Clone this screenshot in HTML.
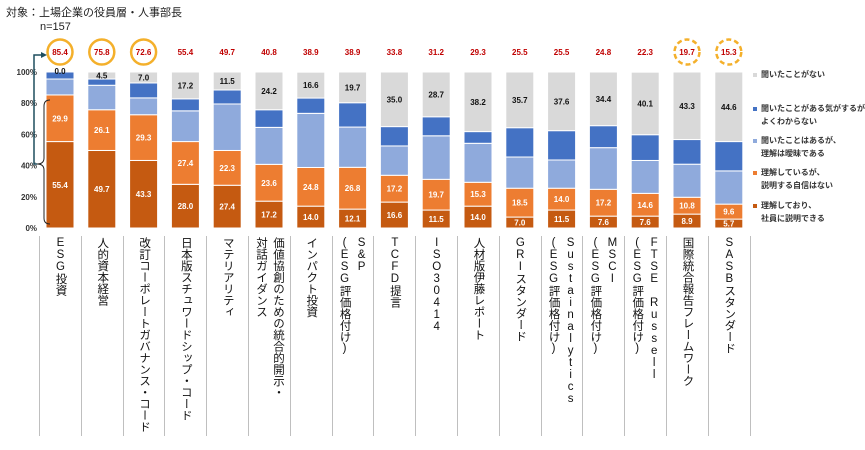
<!DOCTYPE html>
<html><head><meta charset="utf-8">
<style>
body{margin:0;background:#fff;}
#wrap{position:relative;width:865px;height:450px;overflow:hidden;font-family:"Liberation Sans","Noto Sans CJK JP",sans-serif;}
.lbl{position:absolute;top:237px;writing-mode:vertical-rl;text-orientation:upright;font-size:11.5px;line-height:17px;color:#111;white-space:pre;letter-spacing:0px;}
.sep{position:absolute;top:236px;width:1px;height:200px;background:#bfbfbf;}
</style></head><body>
<div id="wrap">
<svg id="svg" width="865" height="450" style="position:absolute;left:0;top:0">
<text x="6" y="16" font-size="11" fill="#222">対象：上場企業の役員層・人事部長</text>
<text x="40" y="30" font-size="11" fill="#222">n=157</text>
<g id="axis"></g><g id="bars"></g><g id="legend"></g>
<path d="M50,100 Q44,100 44,106 L44,158 Q44,164 37,164 Q44,164 44,170 L44,218 Q44,224 50,224" fill="none" stroke="#222" stroke-width="1"/>
<path d="M37,164 L34,164 L34,55 L43,55" fill="none" stroke="#1f4e5f" stroke-width="1.5"/>
<path d="M47,55 L41,52 L41,58 Z" fill="#1f4e5f"/>
</svg>
<div id="labels"></div>
</div>
<script>
const categories=["ESG投資","人的資本経営","改訂コーポレートガバナンス・コード","日本版スチュワードシップ・コード","マテリアリティ","価値協創のための統合的開示・\n対話ガイダンス","インパクト投資","S&P\n(ESG評価格付け)","TCFD提言","ISO30414","人材版伊藤レポート","GRIスタンダード","Sustainalytics\n(ESG評価格付け)","MSCI\n(ESG評価格付け)","FTSE Russell\n(ESG評価格付け)","国際統合報告フレームワーク","SASBスタンダード"];
const explain=[55.4,49.7,43.3,28.0,27.4,17.2,14.0,12.1,16.6,11.5,14.0,7.0,11.5,7.6,7.6,8.9,5.7];
const understand=[29.9,26.1,29.3,27.4,22.3,23.6,24.8,26.8,17.2,19.7,15.3,18.5,14.0,17.2,14.6,10.8,9.6];
const vague=[10.2,15.7,10.8,19.7,29.8,23.7,34.7,25.8,18.8,27.9,25.0,20.0,18.1,26.7,21.1,21.2,21.3];
const unsure=[4.5,4.0,9.6,7.7,9.0,11.3,9.8,15.6,12.4,12.2,7.5,18.8,18.8,14.1,16.5,15.8,18.8];
const never=[0.0,4.5,7.0,17.2,11.5,24.2,16.6,19.7,35.0,28.7,38.2,35.7,37.6,34.4,40.1,43.3,44.6];
const totals=[85.4,75.8,72.6,55.4,49.7,40.8,38.9,38.9,33.8,31.2,29.3,25.5,25.5,24.8,22.3,19.7,15.3];
const circled=[0,1,2]; const dashed=[15,16];
const yTicks=[0,20,40,60,80,100];
const legendItems=["聞いたことがない","聞いたことがある気がするが、\nよくわからない","聞いたことはあるが、\n理解は曖昧である","理解しているが、\n説明する自信はない","理解しており、\n社員に説明できる"];

const NS="http://www.w3.org/2000/svg";
const y0=228,y100=72;
const y=v=>y0-(y0-y100)*v/100;
const xc=i=>60+i*41.8;
const bw=28;
function mk(tag,attrs,parent){const e=document.createElementNS(NS,tag);for(const k in attrs)e.setAttribute(k,attrs[k]);parent.appendChild(e);return e;}
const axis=document.getElementById('axis'),bars=document.getElementById('bars'),leg=document.getElementById('legend');
yTicks.forEach(t=>{const e=mk('text',{x:37,y:y(t)+3,'font-size':8,'font-weight':'bold','text-anchor':'end',fill:'#333'},axis);e.textContent=t+'%';

});
const series=[explain,understand,vague,unsure,never];
const colors=["#c55a11","#ed7d31","#8faadc","#4472c4","#d9d9d9"];
const names=["explain","understand","vague","unsure","never"];
categories.forEach((c,i)=>{
 let cum=0;
 series.forEach((s,k)=>{
  const v=s[i];const top=y(cum+v),bot=y(cum);
  const r=mk('rect',{x:xc(i)-bw/2,y:top,width:bw,height:Math.max(0,bot-top),fill:colors[k],stroke:'#fff','stroke-width':1},bars);
  
  
  if(k!==2&&k!==3){
   let ly=(top+bot)/2+3; if(k===4&&v<3) ly=top+2;
   const t=mk('text',{x:xc(i),y:ly,'font-size':8,'font-weight':'bold','text-anchor':'middle',fill:k===4?'#111':'#fff'},bars);
   t.textContent=v.toFixed(1);
   
   
  }
  cum+=v;
 });
 if(circled.includes(i)||dashed.includes(i)){
  const ci=mk('circle',{cx:xc(i),cy:52,r:12.5,fill:'none',stroke:'#f4b02b','stroke-width':2.5},bars);
  if(dashed.includes(i)) ci.setAttribute('stroke-dasharray','5 3');
  
  
 }
 const tt=mk('text',{x:xc(i),y:55,'font-size':8,'font-weight':'bold','text-anchor':'middle',fill:'#c00000'},bars);
 tt.textContent=totals[i].toFixed(1);
 
 
 // category label
 const L=document.getElementById('labels');
 const d=document.createElement('div');d.className='lbl';d.textContent=c;
 
 
 L.appendChild(d);
 const lines=c.split('\n').length;
 d.style.left=(xc(i)-lines*17/2)+'px';
 const sp=document.createElement('div');sp.className='sep';sp.style.left=(xc(i)-21)+'px';
 
 
 L.appendChild(sp);
});
const sp2=document.createElement('div');sp2.className='sep';sp2.style.left=(xc(16)+21)+'px';


document.getElementById('labels').appendChild(sp2);
const legY=[77,111,143,175,208];
const legCol=["#d9d9d9","#4472c4","#8faadc","#ed7d31","#c55a11"];
legendItems.forEach((t,k)=>{
 const r=mk('rect',{x:753,y:legY[k]-4,width:4,height:4,fill:legCol[k]},leg);
 
 
 t.split('\n').forEach((ln,j)=>{
  const e=mk('text',{x:761,y:legY[k]+j*13,'font-size':8,'font-weight':'bold',fill:'#333'},leg);
  e.textContent=ln;
  
  
 });
});
</script>
</body></html>
